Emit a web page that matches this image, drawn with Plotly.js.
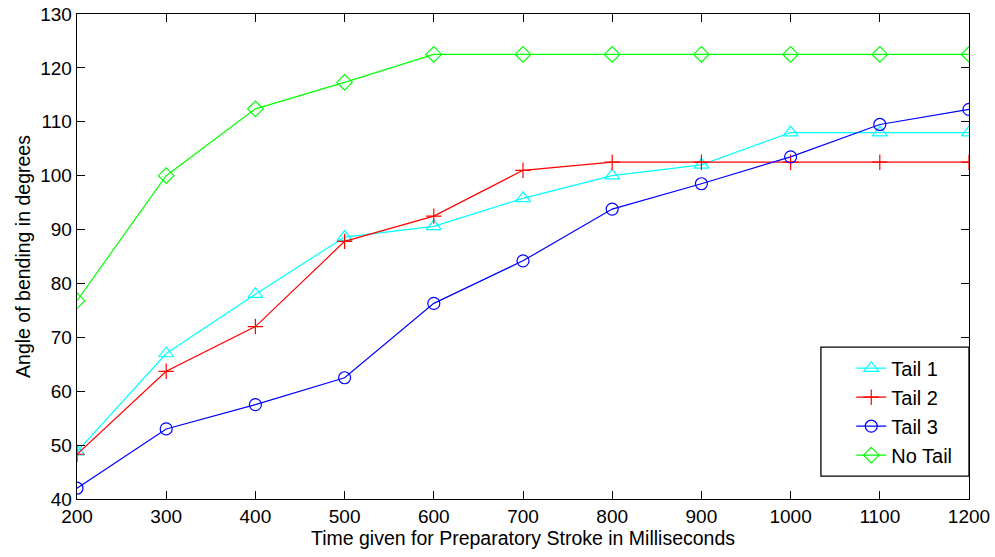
<!DOCTYPE html>
<html>
<head>
<meta charset="utf-8">
<script src="https://cdn.plot.ly/plotly-3.0.1.min.js"></script>
<style>html,body{margin:0;padding:0;background:#fff;}#chart{width:995px;height:557px;}</style>
</head>
<body>
<div id="chart"></div>
<script>
const times = [200, 300, 400, 500, 600, 700, 800, 900, 1000, 1100, 1200];
const tail1 = [48.8, 67, 78, 88.6, 90.6, 95.8, 100, 102, 108, 108, 108];
const tail2 = [48.3, 63.7, 72, 87.8, 92.5, 101, 102.5, 102.5, 102.5, 102.5, 102.5];
const tail3 = [42, 53, 57.5, 62.5, 76.3, 84.2, 93.8, 98.5, 103.5, 109.5, 112.3];
const noTail = [76.8, 100, 112.4, 117.3, 122.5, 122.5, 122.5, 122.5, 122.5, 122.5, 122.5];
const names = ['Tail 1', 'Tail 2', 'Tail 3', 'No Tail'];
const colors = ['#00ffff', '#ff0000', '#0000ff', '#00ff00'];
const symbols = ['triangle-up-open', 'cross-thin-open', 'circle-open', 'diamond-open'];
const sizes = [13, 11, 12, 12];
const series = [tail1, tail2, tail3, noTail];

const traces = series.map((s, i) => ({
  x: times, y: s, name: names[i], type: 'scatter', mode: 'lines+markers',
  line: {color: colors[i], width: 1.2},
  marker: {symbol: symbols[i], size: sizes[i], color: colors[i], line: {color: colors[i], width: 1.2}}
}));

const FONT = 'Liberation Sans, Arial, sans-serif';
const axisCommon = {
  showgrid: false, zeroline: false, showline: true, linecolor: '#000', linewidth: 1.3,
  mirror: 'ticks', ticks: 'inside', ticklen: 8, tickcolor: '#000', tickwidth: 1,
  tickfont: {family: FONT, size: 19, color: '#000'}
};

const layout = {
  width: 995, height: 557,
  margin: {l: 77, r: 26, t: 14, b: 58},
  paper_bgcolor: '#fff', plot_bgcolor: '#fff',
  showlegend: true,
  xaxis: Object.assign({}, axisCommon, {
    range: [200, 1200], tickmode: 'linear', tick0: 200, dtick: 100,
    title: {text: 'Time given for Preparatory Stroke in Milliseconds', standoff: 1,
      font: {family: FONT, size: 19.5, color: '#000'}}
  }),
  yaxis: Object.assign({}, axisCommon, {
    range: [40, 130], tickmode: 'linear', tick0: 40, dtick: 10,
    title: {text: 'Angle of bending in degrees', standoff: 4,
      font: {family: FONT, size: 19.5, color: '#000'}}
  }),
  shapes: [{
    type: 'rect', xref: 'paper', yref: 'paper', layer: 'above',
    x0: 0.834, x1: 1, y0: 0.047, y1: 0.313,
    fillcolor: '#fff', line: {color: '#000', width: 1.3}
  }],
  legend: {
    x: 0.868, xanchor: 'left', y: 0.18, yanchor: 'middle',
    bgcolor: 'rgba(0,0,0,0)', borderwidth: 0,
    font: {family: FONT, size: 20, color: '#000'},
    tracegroupgap: 0
  }
};

Plotly.newPlot('chart', traces, layout, {displayModeBar: false, staticPlot: true});
</script>
</body>
</html>
